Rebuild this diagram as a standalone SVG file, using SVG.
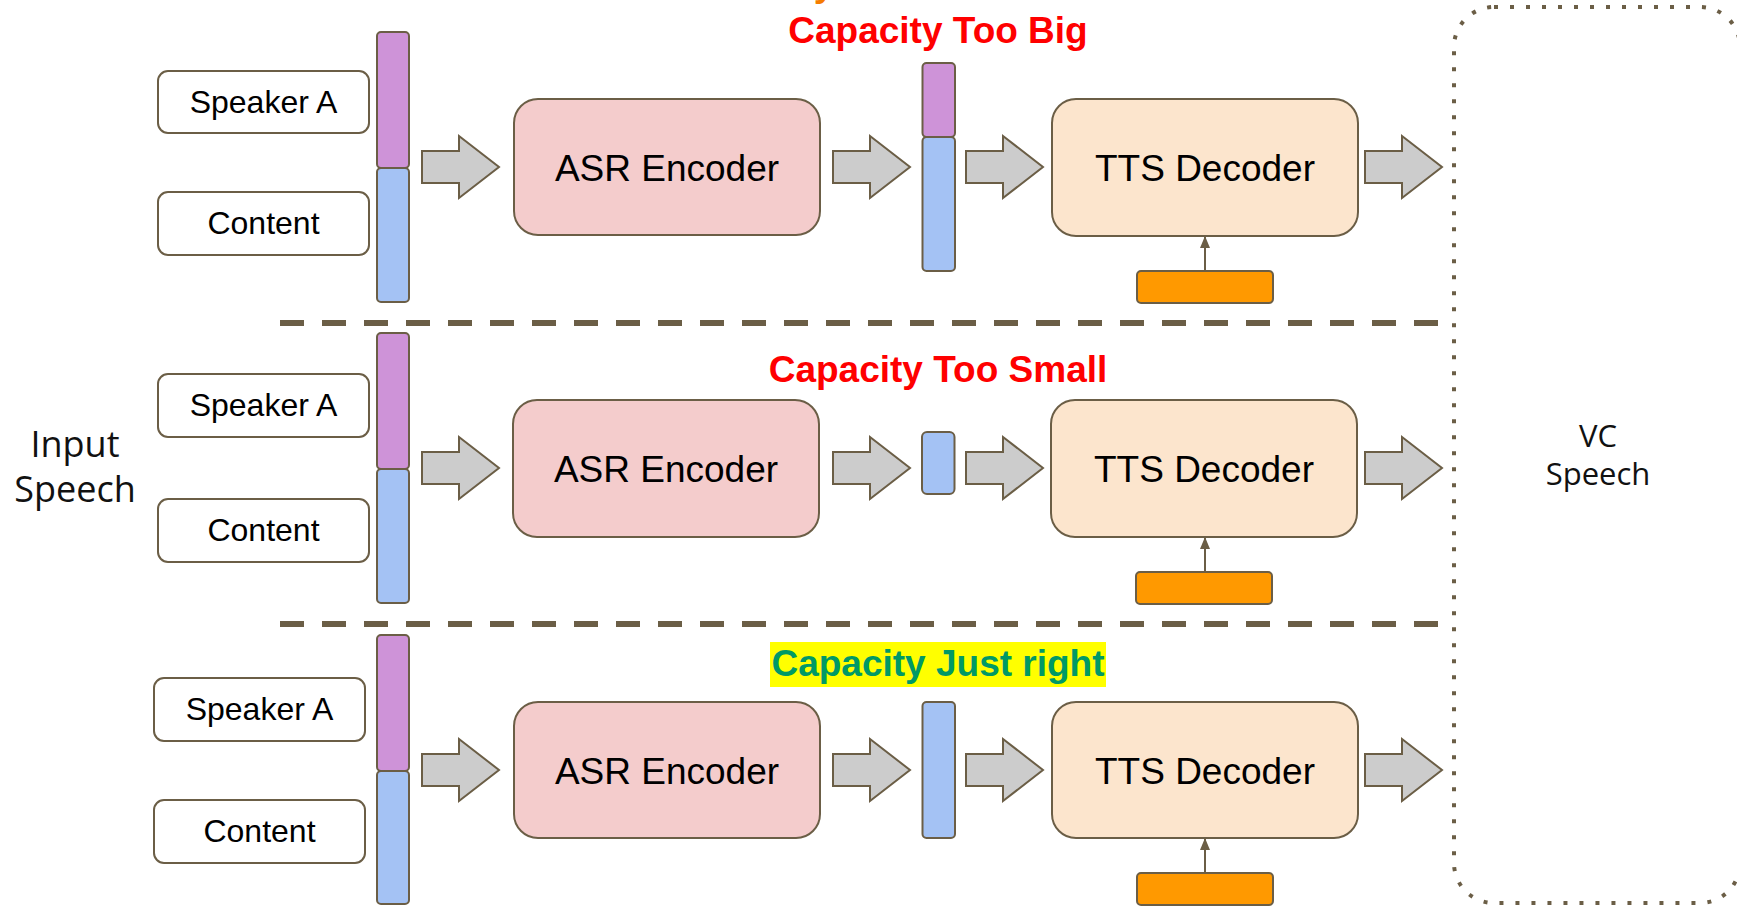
<svg xmlns="http://www.w3.org/2000/svg" xmlns:xlink="http://www.w3.org/1999/xlink" width="1737" height="906" viewBox="0 0 1737 906">
  <style>
    .lbl { fill: #ffffff; stroke: #6b5e46; stroke-width: 2; }
    .asr { fill: #f4cccc; stroke: #6b5e46; stroke-width: 2; }
    .tts { fill: #fce5cd; stroke: #6b5e46; stroke-width: 2; }
    .spk { fill: #ce93d8; stroke: #6b5e46; stroke-width: 2; }
    .cnt { fill: #a4c2f4; stroke: #6b5e46; stroke-width: 2; }
    .cond { fill: #ff9900; stroke: #6b5e46; stroke-width: 2; }
    .blk { fill: #cccccc; stroke: #6b5e46; stroke-width: 2; stroke-linejoin: miter; }
    .thin { stroke: #6b5e46; stroke-width: 2; fill: none; }
    .sep { stroke: #6b5e46; stroke-width: 6; stroke-dasharray: 24 18; fill: none; }
    .out { stroke: #6b5e46; stroke-width: 4; stroke-dasharray: 4 12; fill: none; }
    .t { font-family: "Liberation Sans", Arial, sans-serif; fill: #000000; text-anchor: middle; }
    .small { font-size: 32px; }
    .big { font-size: 37px; }
    .title { font-family: "Liberation Sans", Arial, sans-serif; font-weight: bold; font-size: 37px; text-anchor: middle; }
    .side { font-family: "Open Sans", "Noto Sans", sans-serif; fill: #111111; text-anchor: middle; }
  </style>
  <defs>
    <path id="blockArrow" class="blk" d="M0,-16 H37 V-31 L77,0 L37,31 V16 H0 Z"/>
    <marker id="tip" viewBox="0 0 12 10" refX="11" refY="5" markerWidth="12" markerHeight="10" markerUnits="userSpaceOnUse" orient="auto">
      <path d="M0,0 L12,5 L0,10 Z" fill="#6b5e46"/>
    </marker>
  </defs>

  <!-- fragment of heading above the frame -->
  <text class="title" x="824" y="-4" fill="#f57c00">y</text>

  <!-- section headings -->
  <g id="heading-big">
    <text class="title" x="938" y="43" fill="#ff0000">Capacity Too Big</text>
  </g>
  <g id="heading-small">
    <text class="title" x="938" y="382" fill="#ff0000">Capacity Too Small</text>
  </g>
  <g id="heading-right">
    <rect x="770" y="642" width="336" height="45" fill="#ffff00"/>
    <text class="title" x="938" y="676" fill="#009966">Capacity Just right</text>
  </g>

  <!-- side captions -->
  <g id="input-speech">
    <text class="side" x="75" y="457" font-size="36">Input</text>
    <text class="side" x="75" y="502" font-size="36">Speech</text>
  </g>
  <g id="vc-speech">
    <text class="side" x="1598" y="447" font-size="31">VC</text>
    <text class="side" x="1598" y="485" font-size="31">Speech</text>
  </g>

  <!-- output region -->
  <g id="vc-region">
    <rect class="out" x="1454" y="7" width="286" height="896" rx="40" ry="40"/>
  </g>

  <!-- connectors -->
  <g id="connectors">
    <line class="sep" x1="280" y1="323" x2="1438" y2="323"/>
    <line class="sep" x1="280" y1="624" x2="1438" y2="624"/>

    <!-- row 1 -->
    <use xlink:href="#blockArrow" x="422" y="167"/>
    <use xlink:href="#blockArrow" x="833" y="167"/>
    <use xlink:href="#blockArrow" x="966" y="167"/>
    <use xlink:href="#blockArrow" x="1365" y="167"/>
    <line class="thin" x1="1205" y1="271" x2="1205" y2="237" marker-end="url(#tip)"/>

    <!-- row 2 -->
    <use xlink:href="#blockArrow" x="422" y="468"/>
    <use xlink:href="#blockArrow" x="833" y="468"/>
    <use xlink:href="#blockArrow" x="966" y="468"/>
    <use xlink:href="#blockArrow" x="1365" y="468"/>
    <line class="thin" x1="1205" y1="572" x2="1205" y2="538" marker-end="url(#tip)"/>

    <!-- row 3 -->
    <use xlink:href="#blockArrow" x="422" y="770"/>
    <use xlink:href="#blockArrow" x="833" y="770"/>
    <use xlink:href="#blockArrow" x="966" y="770"/>
    <use xlink:href="#blockArrow" x="1365" y="770"/>
    <line class="thin" x1="1205" y1="873" x2="1205" y2="839" marker-end="url(#tip)"/>
  </g>

  <!-- ===== row 1 ===== -->
  <g id="r1-speaker">
    <rect class="lbl" x="158" y="71" width="211" height="62" rx="10"/>
    <text class="t small" x="263.5" y="113">Speaker A</text>
  </g>
  <g id="r1-content">
    <rect class="lbl" x="158" y="192" width="211" height="63" rx="10"/>
    <text class="t small" x="263.5" y="234">Content</text>
  </g>
  <g id="r1-input-vector">
    <rect class="spk" x="377" y="32" width="32" height="136" rx="4"/>
    <rect class="cnt" x="377" y="168" width="32" height="134" rx="4"/>
  </g>
  <g id="r1-asr">
    <rect class="asr" x="514" y="99" width="306" height="136" rx="24"/>
    <text class="t big" x="667" y="181">ASR Encoder</text>
  </g>
  <g id="r1-latent">
    <rect class="spk" x="922.5" y="63" width="32.5" height="74" rx="4"/>
    <rect class="cnt" x="922.5" y="137" width="32.5" height="134" rx="4"/>
  </g>
  <g id="r1-tts">
    <rect class="tts" x="1052" y="99" width="306" height="137" rx="24"/>
    <text class="t big" x="1205" y="181">TTS Decoder</text>
  </g>
  <g id="r1-cond">
    <rect class="cond" x="1137" y="271" width="136" height="32" rx="4"/>
  </g>

  <!-- ===== row 2 ===== -->
  <g id="r2-speaker">
    <rect class="lbl" x="158" y="374" width="211" height="63" rx="10"/>
    <text class="t small" x="263.5" y="416">Speaker A</text>
  </g>
  <g id="r2-content">
    <rect class="lbl" x="158" y="499" width="211" height="63" rx="10"/>
    <text class="t small" x="263.5" y="541">Content</text>
  </g>
  <g id="r2-input-vector">
    <rect class="spk" x="377" y="333" width="32" height="136" rx="4"/>
    <rect class="cnt" x="377" y="469" width="32" height="134" rx="4"/>
  </g>
  <g id="r2-asr">
    <rect class="asr" x="513" y="400" width="306" height="137" rx="24"/>
    <text class="t big" x="666" y="482">ASR Encoder</text>
  </g>
  <g id="r2-latent">
    <rect class="cnt" x="922" y="432" width="32.5" height="62" rx="5"/>
  </g>
  <g id="r2-tts">
    <rect class="tts" x="1051" y="400" width="306" height="137" rx="24"/>
    <text class="t big" x="1204" y="482">TTS Decoder</text>
  </g>
  <g id="r2-cond">
    <rect class="cond" x="1136" y="572" width="136" height="32" rx="4"/>
  </g>

  <!-- ===== row 3 ===== -->
  <g id="r3-speaker">
    <rect class="lbl" x="154" y="678" width="211" height="63" rx="10"/>
    <text class="t small" x="259.5" y="720">Speaker A</text>
  </g>
  <g id="r3-content">
    <rect class="lbl" x="154" y="800" width="211" height="63" rx="10"/>
    <text class="t small" x="259.5" y="842">Content</text>
  </g>
  <g id="r3-input-vector">
    <rect class="spk" x="377" y="635" width="32" height="136" rx="4"/>
    <rect class="cnt" x="377" y="771" width="32" height="133" rx="4"/>
  </g>
  <g id="r3-asr">
    <rect class="asr" x="514" y="702" width="306" height="136" rx="24"/>
    <text class="t big" x="667" y="784">ASR Encoder</text>
  </g>
  <g id="r3-latent">
    <rect class="cnt" x="922.5" y="702" width="32.5" height="136" rx="4"/>
  </g>
  <g id="r3-tts">
    <rect class="tts" x="1052" y="702" width="306" height="136" rx="24"/>
    <text class="t big" x="1205" y="784">TTS Decoder</text>
  </g>
  <g id="r3-cond">
    <rect class="cond" x="1137" y="873" width="136" height="32" rx="4"/>
  </g>
</svg>
